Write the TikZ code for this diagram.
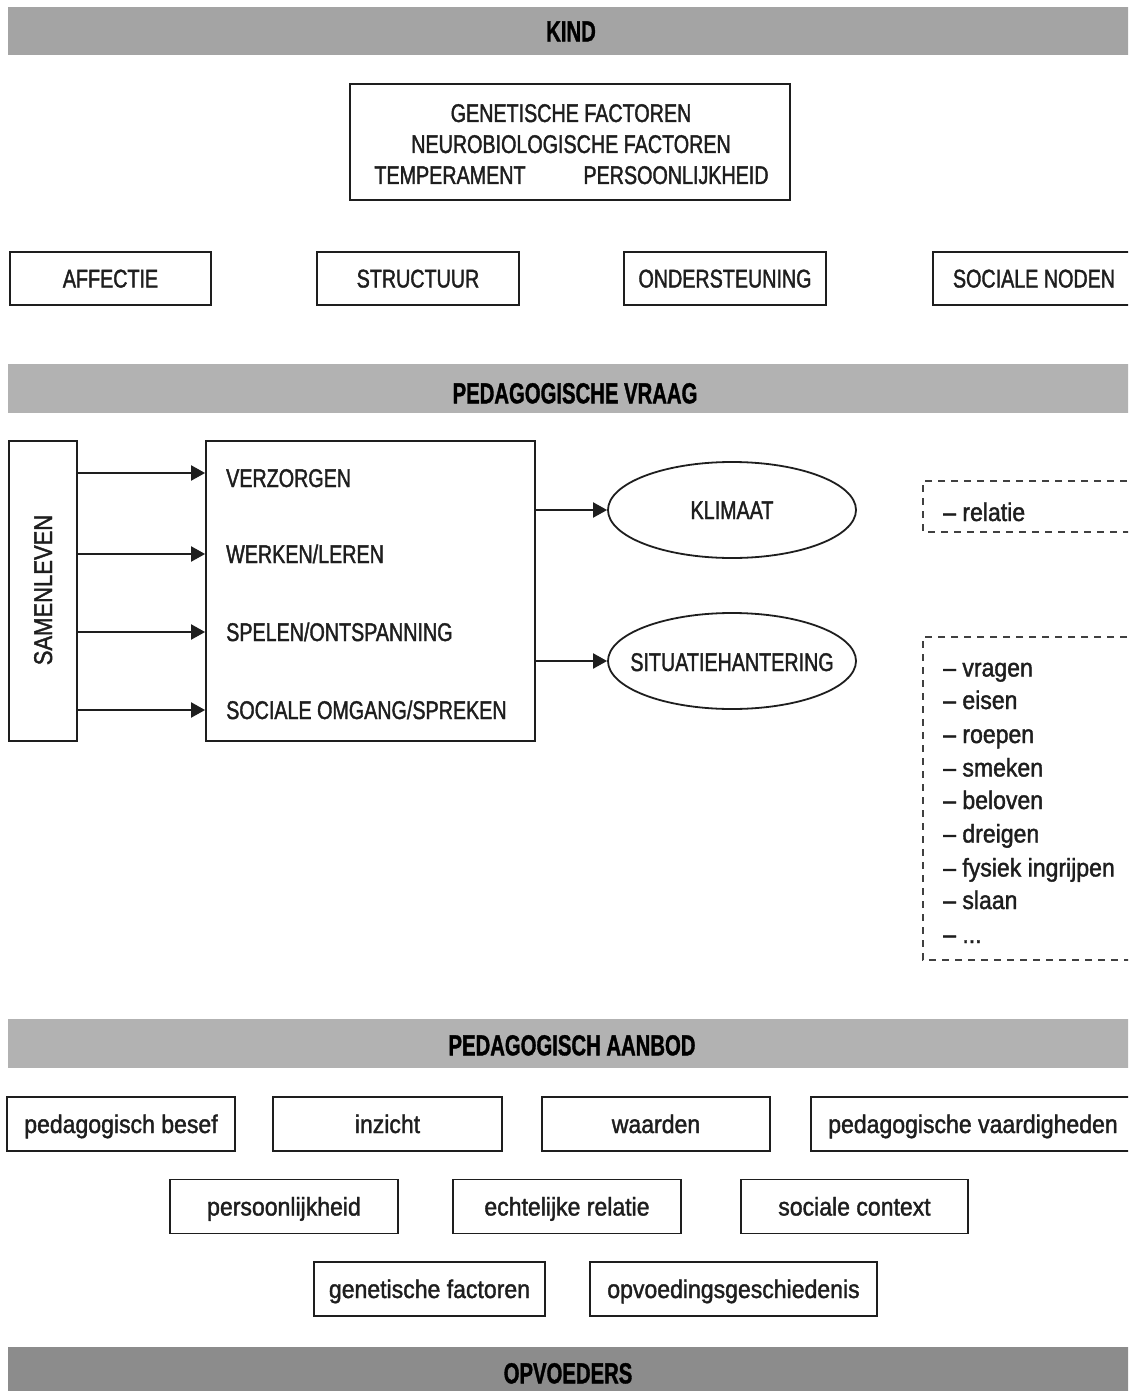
\documentclass[tikz,border=0pt]{standalone}
\usepackage{fontspec}
\usetikzlibrary{shapes.geometric,arrows.meta}
\newfontfamily\capsf[FakeStretch=0.77,FakeBold=1.5]{Liberation Sans}
\newfontfamily\lowsf[FakeStretch=0.9,FakeBold=1.5]{Liberation Sans}
\newfontfamily\rotsf[FakeStretch=0.86,FakeBold=1.5]{Liberation Sans}
\newfontfamily\bandsf[FakeStretch=0.70,FakeBold=1.2]{Liberation Sans}
\definecolor{ink}{HTML}{1E1E1E}
\definecolor{bandA}{HTML}{A4A4A4}
\definecolor{bandB}{HTML}{B2B2B2}
\definecolor{bandC}{HTML}{8C8C8C}
\tikzset{
  txt/.style={text=ink, inner sep=0pt, text height=18pt, text depth=0pt,
    font=\capsf\fontsize{25.6}{31}\selectfont},
  ltxt/.style={text=ink, inner sep=0pt, text height=18pt, text depth=0pt,
    font=\lowsf\fontsize{25.6}{31}\selectfont},
  capbox/.style={draw=ink, line width=1.8pt, inner sep=0pt, text=ink, align=center,
    text height=18pt, text depth=0pt, font=\capsf\fontsize{25.6}{31}\selectfont},
  lowbox/.style={draw=ink, line width=1.8pt, inner sep=0pt, text=ink,
    text height=18pt, text depth=0pt, font=\lowsf\fontsize{25.6}{31}\selectfont},
  band/.style={inner sep=0pt, minimum width=1126pt},
  bandtxt/.style={inner sep=0pt, text=black, text height=20.7pt, text depth=0pt,
    font=\bandsf\bfseries\fontsize{29}{34}\selectfont},
  oval/.style={ellipse, draw=ink, line width=1.8pt, inner sep=0pt,
    minimum width=248pt, minimum height=96pt},
  arr/.style={draw=ink, line width=2pt, -{Triangle[length=14pt,width=15pt]}},
  dashline/.style={draw=ink!85, line width=1.6pt, dash pattern=on 7pt off 6pt},
}
\begin{document}
\begin{tikzpicture}[x=1pt,y=-1pt]
\path[use as bounding box] (0,0) rectangle (1128,1391);
\clip (0,0) rectangle (1128,1391);
\fill[white] (0,0) rectangle (1128,1391);

% ---------- KIND ----------
\node[band, fill=bandA, minimum height=48pt] (kind) at (571,31) {};
\node[bandtxt] (kindtxt) at (571,31) {KIND};
\node[capbox, minimum width=440pt, minimum height=116pt] (gen) at (570,142) {};
\node[txt] (g1) at (571,113) {GENETISCHE FACTOREN};
\node[txt] (g2) at (571,144) {NEUROBIOLOGISCHE FACTOREN};
\node[txt] (g3) at (450,175) {TEMPERAMENT};
\node[txt] (g4) at (676,175) {PERSOONLIJKHEID};
\node[capbox, minimum width=201pt, minimum height=53pt] (affectie) at (110.5,278.5) {AFFECTIE};
\node[capbox, minimum width=202pt, minimum height=53pt] (structuur) at (418,278.5) {STRUCTUUR};
\node[capbox, minimum width=202pt, minimum height=53pt] (onder) at (725,278.5) {ONDERSTEUNING};
\node[capbox, minimum width=202pt, minimum height=53pt] (sociaal) at (1034,278.5) {SOCIALE NODEN};

% ---------- PEDAGOGISCHE VRAAG ----------
\node[band, fill=bandB, minimum height=49pt] (vraag) at (571,388.5) {};
\node[bandtxt] (vraagtxt) at (575,393) {PEDAGOGISCHE VRAAG};

\node[draw=ink, line width=1.8pt, minimum width=68pt, minimum height=300pt, inner sep=0pt] (samen) at (43,591) {};
\node[text=ink, inner sep=0pt, rotate=90, text height=18pt, text depth=0pt,
  font=\rotsf\fontsize{25.6}{31}\selectfont] (samentxt) at (43,590) {SAMENLEVEN};
\node[draw=ink, line width=1.8pt, minimum width=329pt, minimum height=300pt, inner sep=0pt] (big) at (370.5,591) {};

\node[txt, anchor=west] (verz) at (226,478) {VERZORGEN};
\node[txt, anchor=west] (werk) at (226,554) {WERKEN/LEREN};
\node[txt, anchor=west] (spel) at (226,632) {SPELEN/ONTSPANNING};
\node[txt, anchor=west] (soc) at (226,710) {SOCIALE OMGANG/SPREKEN};

\coordinate (y1) at (0,473);
\coordinate (y2) at (0,554);
\coordinate (y3) at (0,632);
\coordinate (y4) at (0,710);
\foreach \k in {1,2,3,4}{
  \draw[arr] (samen.east |- y\k) -- (big.west |- y\k);
}

\node[oval] (klimaat) at (732,510) {};
\node[txt] (klimaattxt) at (732,510) {KLIMAAT};
\node[oval] (situatie) at (732,661) {};
\node[txt] (situatietxt) at (732,662) {SITUATIEHANTERING};
\draw[arr] (big.east |- klimaat.west) -- (klimaat.west);
\draw[arr] (big.east |- situatie.west) -- (situatie.west);

% dashed boxes
\coordinate (d1a) at (1140,481);
\coordinate (d1b) at (923,481);
\coordinate (d1c) at (923,532);
\coordinate (d1d) at (1140,532);
\draw[dashline] (d1a) -- (d1b) -- (d1c) -- (d1d);
\node[ltxt, anchor=west] (relatie) at (943,512) {– relatie};

\coordinate (d2a) at (1140,637);
\coordinate (d2b) at (923,637);
\coordinate (d2c) at (923,960);
\coordinate (d2d) at (1140,960);
\draw[dashline] (d2a) -- (d2b) -- (d2c) -- (d2d);
\foreach \t/\yy [count=\i] in {vragen/667.5, eisen/700, roepen/734, smeken/767.5, beloven/800, dreigen/833.5, fysiek ingrijpen/867.5, slaan/900}{
  \node[ltxt, anchor=west] (item\i) at (943,\yy) {– \t};
}
\node[ltxt, anchor=west] (item9) at (943,934) {– {.}{.}{.}};

% ---------- PEDAGOGISCH AANBOD ----------
\node[band, fill=bandB, minimum height=49pt] (aanbod) at (571,1043.5) {};
\node[bandtxt] (aanbodtxt) at (572,1045) {PEDAGOGISCH AANBOD};

\node[lowbox, minimum width=228pt, minimum height=54pt] (besef) at (121,1124) {pedagogisch besef};
\node[lowbox, minimum width=229pt, minimum height=54pt] (inzicht) at (387.5,1124) {inzicht};
\node[lowbox, minimum width=228pt, minimum height=54pt] (waarden) at (656,1124) {waarden};
\node[lowbox, minimum width=324pt, minimum height=54pt] (vaard) at (973,1124) {pedagogische vaardigheden};

\node[lowbox, minimum width=228pt, minimum height=54pt] (persoon) at (284,1206.5) {persoonlijkheid};
\node[lowbox, minimum width=228pt, minimum height=54pt] (echt) at (567,1206.5) {echtelijke relatie};
\node[lowbox, minimum width=227pt, minimum height=54pt] (context) at (854.5,1206.5) {sociale context};

\node[lowbox, minimum width=231pt, minimum height=54pt] (genf) at (429.5,1289) {genetische factoren};
\node[lowbox, minimum width=287pt, minimum height=54pt] (opvg) at (733.5,1289) {opvoedingsgeschiedenis};

% ---------- OPVOEDERS ----------
\node[band, fill=bandC, minimum height=50pt] (opv) at (571,1372) {};
\node[bandtxt] (opvtxt) at (568,1373) {OPVOEDERS};
\end{tikzpicture}
\end{document}
